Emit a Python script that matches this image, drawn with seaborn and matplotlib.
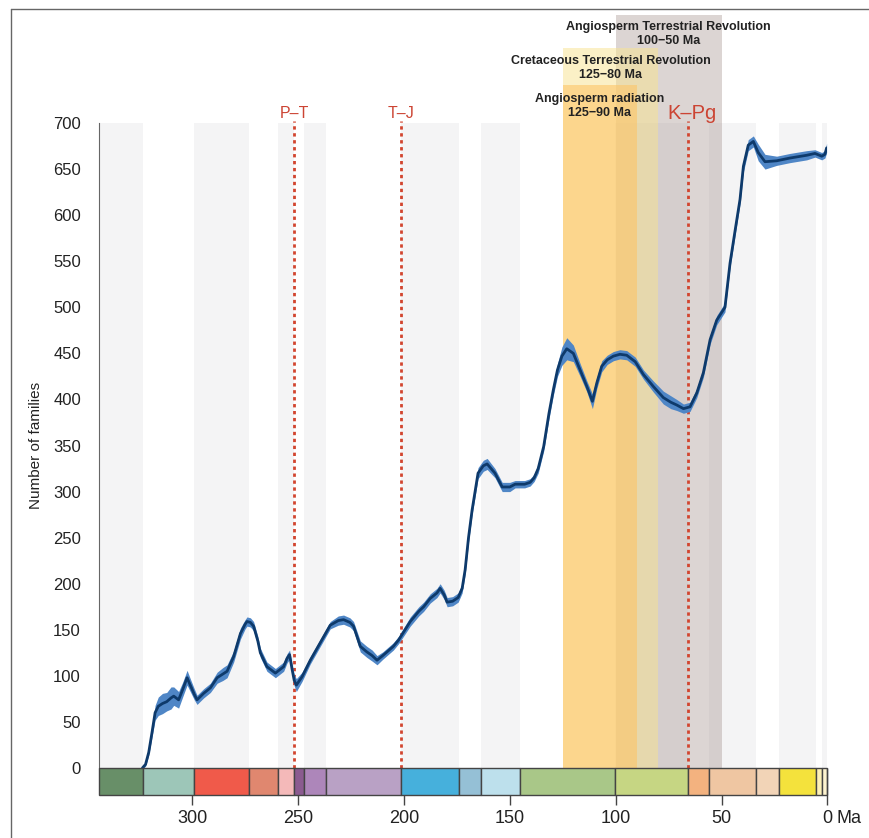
import numpy as np
import pandas as pd
import matplotlib
matplotlib.use("Agg")
import matplotlib.pyplot as plt
from matplotlib.patches import Rectangle
from matplotlib.lines import Line2D
import seaborn as sns

# family richness curve (Ma, mean, half-width of ribbon)
ages = [323.5, 322, 320.5, 319, 317.5, 316, 314, 312, 310, 308.7, 306.4, 304.5, 302.4, 300.9, 299,
        297.7, 294.6, 291.4, 288.2, 285.5, 283.5, 280.4, 277.2, 275, 274.1, 272.5, 271, 269, 267.8,
        264.7, 260.7, 256.8, 255.2, 254, 252.8, 251.8, 250.8, 248.1, 244.2, 239.5, 234.8, 231, 228.5,
        225.5, 223.8, 220.6, 217.5, 215, 212.7, 210, 208, 205, 202.5, 197, 193, 190.7, 187.6, 184.4,
        182.9, 181, 179.6, 177, 174.4, 172.5, 171.1, 169.5, 167.8, 165, 162.5, 160.7, 157, 153.6, 150,
        147.5, 143, 140.4, 138.5, 136.6, 134, 131.5, 129.4, 127.5, 125.4, 123.1, 120, 116.8, 113.6, 111,
        108.9, 106.6, 104, 101.1, 98, 94.8, 90.8, 86.9, 82.2, 77.5, 74, 71.2, 68, 64.9, 61.7, 58.6,
        55.4, 52.3, 48.4, 46, 43.5, 41.3, 39.7, 37.4, 35, 32.7, 29.5, 24, 17.7, 9.8, 5.9, 2.7, 1.2, 0.4]
families = [0, 4, 17, 38, 60, 67, 70, 72, 76, 78, 74, 85, 98, 90, 80,
            74, 81, 87, 98, 102, 105, 121, 146, 156, 159, 158, 154, 138, 125,
            110, 103, 110, 119, 123, 107, 95, 90, 99, 117, 136, 155, 160, 161,
            158, 154, 132, 126, 122, 117, 122, 126, 132, 139, 159, 170, 175, 184, 190,
            195, 188, 180, 181, 185, 195, 215, 250, 280, 320, 328, 330, 320, 305, 305,
            308, 308, 310, 315, 325, 349, 385, 411, 432, 447, 455, 450, 432, 414, 398,
            418, 436, 443, 447, 449, 448, 441, 427, 414, 402, 397, 394, 390, 392, 407, 429,
            465, 486, 500, 548, 585, 617, 653, 676, 680, 668, 658, 659, 662, 665, 667, 664, 666, 673]
halfwidth = [1, 2, 3, 5, 8, 10, 11, 10, 12, 10, 9, 8, 8, 7, 6,
             5, 5, 5, 6, 7, 7, 6, 6, 5, 5, 5, 5, 5, 5,
             5, 5, 5, 5, 5, 5, 6, 7, 5, 4, 4, 4, 5, 5,
             5, 5, 6, 6, 6, 5, 4, 4, 4, 4, 5, 5, 5, 5, 5,
             5, 5, 5, 5, 5, 5, 5, 5, 5, 6, 6, 6, 5, 5, 5,
             4, 4, 4, 4, 5, 5, 6, 6, 7, 10, 12, 9, 7, 6, 8,
             6, 6, 5, 5, 5, 5, 5, 5, 6, 7, 7, 6, 5, 5, 5, 5,
             5, 5, 5, 5, 5, 5, 6, 6, 6, 9, 8, 5, 5, 5, 4, 4, 4, 5]

# geological time scale (older, younger, colour)
unit_old = [344, 323.2, 298.9, 273.0, 259.5, 251.9, 247.2, 237.0, 201.4, 174.1, 163.5, 145.0,
            100.5, 66.0, 56.0, 33.9, 23.0, 5.33, 2.58, 0.0117]
unit_young = unit_old[1:] + [0.0]
unit_colors = ["#688f68", "#9dc6b8", "#f05a4a", "#e0876f", "#f4b9b9", "#8b5b90", "#ad86ba",
               "#b9a1c5", "#46b0dc", "#95c0d6", "#bde0ec", "#a9c788", "#c6d683", "#f3b27f",
               "#efc6a2", "#f2d4b7", "#f4e23c", "#fdf1b8", "#fdf3cf", "#fdf6e8"]

extinctions = [251.9, 201.4, 66.0]
extinction_labels = ["P\u2013T", "T\u2013J", "K\u2013Pg"]

events = ["Angiosperm Terrestrial Revolution\n100\u221250 Ma",
          "Cretaceous Terrestrial Revolution\n125\u221280 Ma",
          "Angiosperm radiation\n125\u221290 Ma"]
event_start = [100, 125, 125]
event_end = [50, 80, 90]

df = pd.DataFrame({"age": ages, "families": families, "hw": halfwidth})

sns.set_style("white")
plt.rcParams["font.family"] = ["Liberation Sans", "DejaVu Sans"]

fig = plt.figure(figsize=(8.69, 8.38), dpi=100)
ax = fig.add_axes([0.1139, 0.0513, 0.8383, 0.8019])

BAR = 29.3
ax.set_xlim(unit_old[0], 0)
ax.set_ylim(-BAR, 700)

# alternating grey stripes behind the curve
for i, (o, y) in enumerate(zip(unit_old, unit_young)):
    if i % 2 == 0:
        ax.add_patch(Rectangle((y, 0), o - y, 700, facecolor="#f4f4f5", edgecolor="none", zorder=0))

# event bands, running above the axes (grey first, then yellow, then orange)
y0 = BAR / (700 + BAR)
tops = [1.1607, 1.1116, 1.0565]
band_cols = ["#a08c86", "#f8e38f", "#fdc568"]
band_alpha = [0.36, 0.5, 0.6]
for k in [0, 1, 2]:
    ax.add_patch(Rectangle((event_end[k], y0), event_start[k] - event_end[k], tops[k] - y0,
                           transform=ax.get_xaxis_transform(), facecolor=band_cols[k],
                           alpha=band_alpha[k], edgecolor="none", clip_on=False, zorder=1))
text_y = [1.1321, 1.0818, 1.0248]
for k in range(3):
    ax.text((event_start[k] + event_end[k]) / 2, text_y[k], events[k], transform=ax.get_xaxis_transform(),
            ha="center", va="center", fontsize=9, fontweight="bold", color="#222222",
            linespacing=1.2, zorder=5)

# extinction lines
for x, lab in zip(extinctions, extinction_labels):
    ax.plot([x, x], [0, 702], color="#d2452f", lw=2, linestyle=(0, (1.2, 1.3)), zorder=3, clip_on=False)
    big = lab == "K\u2013Pg"
    ax.text(x - 2 if big else x, 1.0149, lab, transform=ax.get_xaxis_transform(),
            ha="center", va="center", fontsize=14.5 if big else 11.5, color="#cc4433")

# curve with ribbon
ax.fill_between(df["age"], df["families"] - df["hw"], df["families"] + df["hw"],
                color="#4f86c6", lw=0, zorder=4)
sns.lineplot(data=df, x="age", y="families", ax=ax, color="#0e3a6b", lw=2, zorder=5,
             sort=False, estimator=None)

# geologic time bar
for o, y, c in zip(unit_old, unit_young, unit_colors):
    ax.add_patch(Rectangle((y, -BAR), o - y, BAR, facecolor=c, edgecolor="#444444", lw=1,
                           zorder=6, clip_on=False))

sns.despine(ax=ax, top=True, right=True, bottom=True)
ax.spines["left"].set_bounds(0, 700)
ax.spines["left"].set_color("#666666")
ax.set_yticks(np.arange(0, 701, 50))
ax.set_xticks([300, 250, 200, 150, 100, 50, 0])
ax.set_xticklabels(["300", "250", "200", "150", "100", "50", "0"])
ax.tick_params(axis="y", length=7, width=1, color="#666666", pad=6, labelsize=12, labelcolor="#222222")
ax.tick_params(axis="x", length=7, width=1, color="#444444", pad=4, labelsize=13, labelcolor="#222222",
               bottom=True)
ax.annotate("Ma", xy=(-4.2, 0), xycoords=ax.get_xaxis_transform(), xytext=(0, -11),
            textcoords="offset points", ha="left", va="top", fontsize=13, color="#222222")
ax.set_xlabel("")
ax.set_ylabel("Number of families", fontsize=11, labelpad=8, color="#222222")
ax.yaxis.set_label_coords(-0.077, 0.52)

# frame lines on the figure (top and left)
fig.add_artist(Line2D([11 / 869, 11 / 869], [0, 1 - 9 / 838], transform=fig.transFigure, color="#666666", lw=1))
fig.add_artist(Line2D([11 / 869, 1], [1 - 9 / 838, 1 - 9 / 838], transform=fig.transFigure, color="#666666", lw=1))

fig.savefig("out.png", dpi=100)
